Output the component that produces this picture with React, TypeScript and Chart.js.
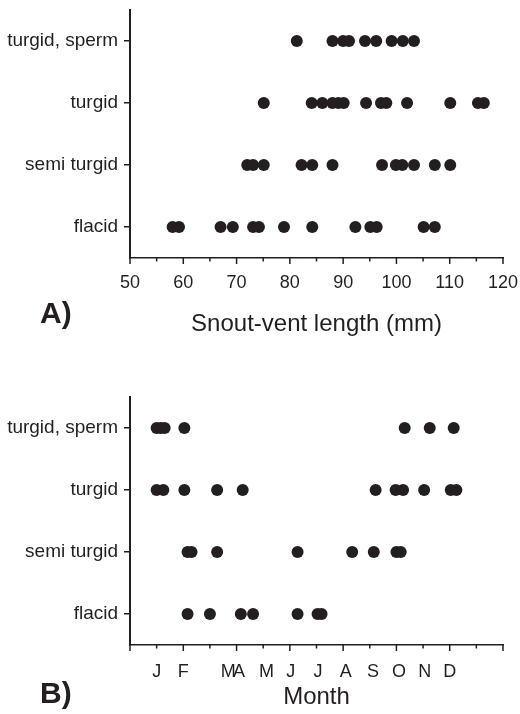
import React, { useEffect, useRef } from "react";
import { Chart, registerables } from "chart.js";

Chart.register(...registerables);

const INK = "#231f20";
const FONT = '"Liberation Sans", Arial, Helvetica, sans-serif';

// Row categories (bottom to top)
const categories = ["flacid", "semi turgid", "turgid", "turgid, sperm"];

// Panel A: snout-vent length (mm)
const svlFlacid = [58.0, 59.2, 67.0, 69.3, 73.1, 74.2, 78.9, 84.2, 92.3, 95.1, 96.3, 105.1, 107.2];
const svlSemiTurgid = [72.0, 73.1, 75.1, 82.2, 84.2, 88.0, 97.3, 99.9, 101.1, 103.3, 107.2, 110.1];
const svlTurgid = [75.1, 84.1, 86.1, 88.0, 89.1, 90.1, 94.3, 97.1, 98.1, 102.0, 110.1, 115.3, 116.4];
const svlTurgidSperm = [81.3, 88.0, 90.0, 91.1, 94.1, 96.2, 99.1, 101.2, 103.3];
const svlTickValues = [50, 60, 70, 80, 90, 100, 110, 120];

// Panel B: month of capture
const monthFlacid = [2.16, 3.0, 4.16, 4.62, 6.29, 7.04, 7.19];
const monthSemiTurgid = [2.16, 2.31, 3.27, 6.29, 8.34, 9.15, 10.0, 10.16];
const monthTurgid = [1.0, 1.25, 2.04, 3.27, 4.23, 9.22, 9.97, 10.25, 11.04, 12.04, 12.25];
const monthTurgidSperm = [1.0, 1.15, 1.3, 2.04, 10.31, 11.25, 12.15];
const monthTickValues = [1, 2, 3.69, 4.09, 5.12, 6.03, 7.06, 8.1, 9.12, 10.1, 11.06, 12.0];
const monthTickLabels = ["J", "F", "M", "A", "M", "J", "J", "A", "S", "O", "N", "D"];

const decorPlugin = {
  id: "decor",
  afterDraw(chart: any, _args: any, opts: any) {
    const ctx = chart.ctx;
    const xs = chart.scales.x;
    ctx.save();
    ctx.strokeStyle = INK;
    ctx.lineWidth = 1.5;
    const n = Math.round((xs.max - xs.min) / opts.minorStep);
    for (let i = 0; i <= n; i++) {
      const v = xs.min + i * opts.minorStep;
      const px = xs.getPixelForValue(v);
      const r = (v - xs.min) / opts.majorStep;
      const major = Math.abs(r - Math.round(r)) < 1e-6;
      const len = major ? 6 : 3.5;
      ctx.beginPath();
      ctx.moveTo(px, xs.top);
      ctx.lineTo(px, xs.top + len);
      ctx.stroke();
    }
    ctx.font = `bold 30px ${FONT}`;
    ctx.fillStyle = INK;
    ctx.textAlign = "left";
    ctx.textBaseline = "alphabetic";
    ctx.fillText(opts.label, 40, opts.labelBaseline);
    ctx.restore();
  },
};

type PanelSpec = {
  rows: number[][];
  xMin: number;
  xMax: number;
  tickValues: number[];
  tickLabel: (v: number, i: number) => string;
  title: string;
  minorStep: number;
  majorStep: number;
  label: string;
  labelBaseline: number;
  padTop: number;
  xHeight: number;
  tickPad: number;
  titlePadBottom: number;
};

function makeConfig(p: PanelSpec): any {
  return {
    type: "scatter",
    data: {
      datasets: p.rows.map((vals, r) => ({
        label: categories[r],
        data: vals.map((v) => ({ x: v, y: r + 1 })),
        pointRadius: 6,
        pointHoverRadius: 6,
        pointBackgroundColor: INK,
        pointBorderWidth: 0,
        borderWidth: 0,
        clip: false,
      })),
    },
    options: {
      responsive: false,
      animation: false,
      events: [],
      layout: { padding: { top: p.padTop, right: 17, left: 0, bottom: 0 } },
      plugins: {
        legend: { display: false },
        tooltip: { enabled: false },
        decor: {
          minorStep: p.minorStep,
          majorStep: p.majorStep,
          label: p.label,
          labelBaseline: p.labelBaseline,
        },
      },
      scales: {
        x: {
          type: "linear",
          min: p.xMin,
          max: p.xMax,
          afterBuildTicks: (s: any) => {
            s.ticks = p.tickValues.map((v) => ({ value: v }));
          },
          afterFit: (s: any) => {
            s.height = p.xHeight;
            s.paddingLeft = 0;
            s.paddingRight = 0;
          },
          grid: { display: false },
          border: { display: true, color: INK, width: 1.5 },
          ticks: {
            autoSkip: false,
            maxRotation: 0,
            minRotation: 0,
            padding: p.tickPad,
            color: INK,
            font: { family: FONT, size: 18 },
            callback: (v: any, i: number) => p.tickLabel(v, i),
          },
          title: {
            display: true,
            text: p.title,
            color: INK,
            font: { family: FONT, size: 24 },
            padding: { top: 0, bottom: p.titlePadBottom },
          },
        },
        y: {
          type: "linear",
          min: 0.5,
          max: 4.5,
          afterBuildTicks: (s: any) => {
            s.ticks = categories.map((_c, i) => ({ value: i + 1 }));
          },
          afterFit: (s: any) => {
            s.width = 130;
            s.paddingTop = 0;
            s.paddingBottom = 0;
          },
          grid: {
            display: true,
            drawOnChartArea: false,
            drawTicks: true,
            tickLength: 6,
            color: INK,
            lineWidth: 1.5,
          },
          border: { display: true, color: INK, width: 2 },
          ticks: {
            autoSkip: false,
            padding: 6,
            color: INK,
            font: { family: FONT, size: 19 },
            callback: (v: any) => categories[Math.round(v) - 1],
          },
        },
      },
    },
    plugins: [decorPlugin],
  };
}

function Panel({ spec }: { spec: PanelSpec }) {
  const ref = useRef<HTMLCanvasElement | null>(null);
  useEffect(() => {
    if (!ref.current) return;
    const chart = new Chart(ref.current, makeConfig(spec));
    return () => chart.destroy();
  }, [spec]);
  return <canvas ref={ref} width={520} height={357} style={{ display: "block", width: 520, height: 357 }} />;
}

const panelA: PanelSpec = {
  rows: [svlFlacid, svlSemiTurgid, svlTurgid, svlTurgidSperm],
  xMin: 50,
  xMax: 120,
  tickValues: svlTickValues,
  tickLabel: (v) => String(v),
  title: "Snout-vent length (mm)",
  minorStep: 5,
  majorStep: 10,
  label: "A)",
  labelBaseline: 323,
  padTop: 10,
  xHeight: 99,
  tickPad: 6,
  titlePadBottom: 18.6,
};

const panelB: PanelSpec = {
  rows: [monthFlacid, monthSemiTurgid, monthTurgid, monthTurgidSperm],
  xMin: 0,
  xMax: 14,
  tickValues: monthTickValues,
  tickLabel: (_v, i) => monthTickLabels[i],
  title: "Month",
  minorStep: 1,
  majorStep: 2,
  label: "B)",
  labelBaseline: 346,
  padTop: 40,
  xHeight: 69,
  tickPad: 8.5,
  titlePadBottom: 2.1,
};

export default function App() {
  return (
    <div style={{ position: "absolute", left: 0, top: 0, width: 520, height: 714, background: "#fff" }}>
      <Panel spec={panelA} />
      <Panel spec={panelB} />
    </div>
  );
}
